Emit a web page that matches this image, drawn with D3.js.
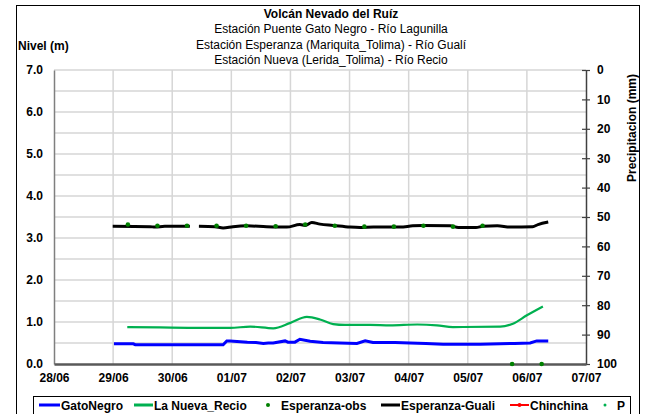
<!DOCTYPE html>
<html><head><meta charset="utf-8">
<script src="https://cdn.jsdelivr.net/npm/d3@7"></script>
<style>
html,body{margin:0;padding:0;background:#fff;}
svg{display:block;font-family:"Liberation Sans",Arial,sans-serif;}
</style></head>
<body><svg id="c" width="645" height="414"></svg>
<script>
// ---- data ----
const titleLines = ["Volcán Nevado del Ruíz","Estación Puente Gato Negro - Río Lagunilla","Estación Esperanza (Mariquita_Tolima) - Río Gualí","Estación Nueva (Lerida_Tolima) - Río Recio"];
const xTickLabels = ["28/06","29/06","30/06","01/07","02/07","03/07","04/07","05/07","06/07","07/07"];
const xDomain = ["2012-06-28 00:00","2012-07-07 00:00"];
const leftTicks = [0,1,2,3,4,5,6,7];
const rightTicks = [0,10,20,30,40,50,60,70,80,90,100];

const gatoTimes = ["2012-06-29 00:20","2012-06-29 08:10","2012-06-29 09:00","2012-06-29 20:00","2012-06-30 10:00","2012-06-30 20:40","2012-06-30 22:10","2012-06-30 23:30","2012-07-01 06:30","2012-07-01 10:00","2012-07-01 13:00","2012-07-01 15:00","2012-07-01 17:00","2012-07-01 21:50","2012-07-01 23:00","2012-07-02 01:50","2012-07-02 03:50","2012-07-02 08:00","2012-07-02 13:15","2012-07-02 20:00","2012-07-03 03:00","2012-07-03 06:20","2012-07-03 09:30","2012-07-03 14:00","2012-07-03 18:30","2012-07-04 00:30","2012-07-04 07:00","2012-07-04 14:00","2012-07-04 22:00","2012-07-05 05:00","2012-07-05 13:10","2012-07-05 19:00","2012-07-06 01:20","2012-07-06 04:00","2012-07-06 08:40"];
const gatoValues = [0.48,0.48,0.46,0.46,0.46,0.46,0.55,0.55,0.52,0.51,0.49,0.50,0.50,0.55,0.52,0.52,0.59,0.54,0.51,0.50,0.49,0.55,0.51,0.51,0.51,0.50,0.49,0.47,0.47,0.47,0.48,0.49,0.50,0.55,0.55];

const recioTimes = ["2012-06-29 05:45","2012-06-29 19:00","2012-06-30 11:20","2012-06-30 23:30","2012-07-01 07:40","2012-07-01 17:00","2012-07-02 00:00","2012-07-02 06:40","2012-07-02 12:00","2012-07-02 17:20","2012-07-02 22:10","2012-07-03 08:20","2012-07-03 16:30","2012-07-04 03:30","2012-07-04 11:30","2012-07-04 18:00","2012-07-05 13:10","2012-07-05 18:20","2012-07-06 00:00","2012-07-06 06:30"];
const recioValues = [0.88,0.87,0.86,0.86,0.89,0.85,0.98,1.12,1.06,0.95,0.93,0.93,0.92,0.94,0.92,0.88,0.89,0.96,1.16,1.37];

const gualiTimes = ["2012-06-28 23:50","2012-06-29 15:00","2012-06-29 17:00","2012-06-29 21:00","2012-06-30 07:10",null,"2012-06-30 10:50","2012-06-30 17:20","2012-06-30 20:40","2012-07-01 00:40","2012-07-01 06:10","2012-07-01 14:20","2012-07-01 22:30","2012-07-02 03:50","2012-07-02 06:00","2012-07-02 08:40","2012-07-02 12:00","2012-07-02 17:20","2012-07-03 00:10","2012-07-03 04:20","2012-07-03 09:40","2012-07-03 20:30","2012-07-04 01:40","2012-07-04 05:40","2012-07-04 16:50","2012-07-04 20:10","2012-07-05 03:20","2012-07-05 06:10","2012-07-05 12:00","2012-07-05 17:20","2012-07-06 02:20","2012-07-06 04:30","2012-07-06 08:40"];
const gualiValues = [3.28,3.27,3.26,3.28,3.28,null,3.28,3.27,3.24,3.27,3.29,3.27,3.26,3.32,3.30,3.37,3.33,3.30,3.26,3.25,3.26,3.26,3.29,3.30,3.29,3.25,3.25,3.28,3.29,3.26,3.27,3.32,3.38];

const obsTimes = ["2012-06-29 06:00","2012-06-29 18:00","2012-06-30 06:00","2012-06-30 18:00","2012-07-01 06:00","2012-07-01 18:00","2012-07-02 06:00","2012-07-02 18:00","2012-07-03 06:00","2012-07-03 18:00","2012-07-04 06:00","2012-07-04 18:00","2012-07-05 06:00","2012-07-05 18:00","2012-07-06 06:00"];
const obsValues = [3.32,3.29,3.29,3.29,3.29,3.28,3.32,3.29,3.27,3.27,3.29,3.27,3.29,0,0];

const legendNames = ["GatoNegro","La Nueva_Recio","Esperanza-obs","Esperanza-Guali","Chinchina","P"];

// ---- drawing ----
const parse = d3.timeParse("%Y-%m-%d %H:%M");
const svg = d3.select("#c");
const L = 54, R = 586, T = 70, B = 364;
const x = d3.scaleTime().domain(xDomain.map(parse)).range([L, R]);
const y = d3.scaleLinear().domain([0, 7]).range([B, T]);
const y2 = d3.scaleLinear().domain([0, 100]).range([T, B]);

// outer frame
svg.append("rect").attr("x",16.5).attr("y",5.5).attr("width",623).attr("height",420)
  .attr("fill","none").attr("stroke","#000").attr("stroke-width",1);

// title
const tg = svg.append("g").attr("text-anchor","middle");
titleLines.forEach((t,i)=>{
  tg.append("text").attr("x",331).attr("y",18+i*15.3)
    .attr("font-size", "12px").attr("font-weight", i===0?"bold":"normal").text(t);
});
svg.append("text").attr("x",18).attr("y",50).attr("font-size","12px").attr("font-weight","bold").text("Nivel (m)");
svg.append("text").attr("transform","translate(636,128) rotate(-90)").attr("text-anchor","middle")
  .attr("font-size","12px").attr("font-weight","bold").text("Precipitacion (mm)");

// gridlines
const days = d3.timeDay.range(x.domain()[0], x.domain()[1]);
const grid = svg.append("g").attr("stroke","#d6d6d6").attr("stroke-width",1.5);
d3.range(1,15).map(d=>d*0.5).forEach(v=>{
  grid.append("line").attr("x1",L).attr("x2",R).attr("y1",y(v)).attr("y2",y(v));
});
days.slice(1).forEach(d=>{
  grid.append("line").attr("x1",x(d)).attr("x2",x(d)).attr("y1",T).attr("y2",B);
});

// left axis
const gl = svg.append("g").attr("transform",`translate(${L},0)`)
  .call(d3.axisLeft(y).tickValues(leftTicks).tickSize(0).tickPadding(11).tickFormat(d3.format(".1f")));
gl.select(".domain").attr("stroke","#7f7f7f").attr("stroke-width",1.5);
gl.selectAll("text").attr("font-size","12px").attr("font-weight","bold").attr("fill","#000")
  .attr("font-family","Liberation Sans, Arial, sans-serif");

// right axis
const gr = svg.append("g").attr("transform",`translate(${R},0)`)
  .call(d3.axisRight(y2).tickValues(rightTicks).tickSizeInner(4).tickSizeOuter(0).tickPadding(7));
gr.select(".domain").attr("stroke","#404040").attr("stroke-width",1.5);
gr.selectAll(".tick line").attr("x1",-4).attr("x2",4).attr("stroke","#404040").attr("stroke-width",1.2);
gr.selectAll("text").attr("font-size","12px").attr("font-weight","bold").attr("fill","#000")
  .attr("font-family","Liberation Sans, Arial, sans-serif");

// bottom axis
const allDays = d3.timeDay.range(x.domain()[0], d3.timeDay.offset(x.domain()[1],1));
const gb = svg.append("g").attr("transform",`translate(0,${B})`)
  .call(d3.axisBottom(x).tickValues(allDays).tickSize(0).tickPadding(9)
    .tickFormat((d,i)=>xTickLabels[i]));
gb.select(".domain").attr("stroke","#595959").attr("stroke-width",2.5);
gb.selectAll("text").attr("font-size","12px").attr("font-weight","bold").attr("fill","#000")
  .attr("font-family","Liberation Sans, Arial, sans-serif");

// series
function series(times, vals){
  return times.map((t,i)=>({t: t?parse(t):null, v: vals[i]}));
}
const line = d3.line().defined(d=>d.t!==null && d.v!==null).x(d=>x(d.t)).y(d=>y(d.v)).curve(d3.curveMonotoneX);

svg.append("path").datum(series(recioTimes, recioValues)).attr("d",line)
  .attr("fill","none").attr("stroke","#00b050").attr("stroke-width",2.2);
svg.append("path").datum(series(gatoTimes, gatoValues)).attr("d",line.curve(d3.curveLinear))
  .attr("fill","none").attr("stroke","#0000ff").attr("stroke-width",3);
svg.append("path").datum(series(gualiTimes, gualiValues)).attr("d",line.curve(d3.curveMonotoneX))
  .attr("fill","none").attr("stroke","#000").attr("stroke-width",3);
svg.append("g").selectAll("circle").data(series(obsTimes, obsValues)).join("circle")
  .attr("cx",d=>x(d.t)).attr("cy",d=>y(d.v)).attr("r",2.3).attr("fill","#008000");

// legend
const lg = svg.append("g").attr("font-size","12px").attr("font-weight","bold");
lg.append("rect").attr("x",33.5).attr("y",396.5).attr("width",597).attr("height",20)
  .attr("fill","#fff").attr("stroke","#000").attr("stroke-width",1);
const ly = 405;
const items = [
  {type:"line", color:"#0000ff", x0:39, x1:60, tx:61},
  {type:"line", color:"#00b050", x0:134, x1:153, tx:154},
  {type:"dot", color:"#008000", x0:268, tx:281},
  {type:"line", color:"#000", x0:381, x1:400, tx:401},
  {type:"linedot", color:"#ff0000", x0:510, x1:529, tx:530},
  {type:"dot", color:"#00b050", x0:605, tx:617, r:1.5}
];
items.forEach((it,i)=>{
  if(it.type!=="dot"){
    lg.append("line").attr("x1",it.x0).attr("x2",it.x1).attr("y1",ly).attr("y2",ly)
      .attr("stroke",it.color).attr("stroke-width",it.type==="linedot"?2:3);
    if(it.type==="linedot") lg.append("circle").attr("cx",(it.x0+it.x1)/2).attr("cy",ly).attr("r",2).attr("fill",it.color);
  } else {
    lg.append("circle").attr("cx",it.x0).attr("cy",ly).attr("r",it.r||2).attr("fill",it.color);
  }
  lg.append("text").attr("x",it.tx).attr("y",ly+4.5).text(legendNames[i]);
});
</script></body></html>
